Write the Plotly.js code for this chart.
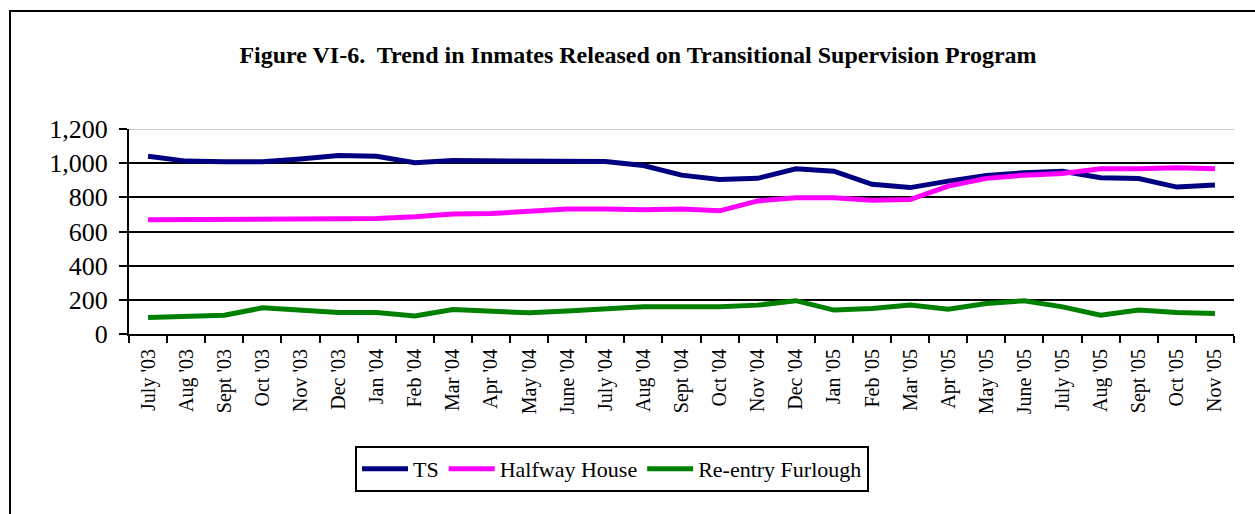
<!DOCTYPE html>
<html>
<head>
<meta charset="utf-8">
<script src="https://cdn.plot.ly/plotly-3.0.1.min.js"></script>
<style>html,body{margin:0;padding:0;background:#fff;}#chart{width:1255px;height:514px;}</style>
</head>
<body>
<div id="chart"></div>
<script>
const months = ["July '03","Aug '03","Sept '03","Oct '03","Nov '03","Dec '03","Jan '04","Feb '04","Mar '04","Apr '04","May '04","June '04","July '04","Aug '04","Sept '04","Oct '04","Nov '04","Dec '04","Jan '05","Feb '05","Mar '05","Apr '05","May '05","June '05","July '05","Aug '05","Sept '05","Oct '05","Nov '05"];
const ts = [1040,1012,1008,1008,1025,1045,1040,1002,1015,1015,1012,1008,1010,986,930,905,911,967,953,876,857,895,928,944,953,915,910,860,872];
const halfway = [669,669,669,669,669,672,676,686,702,705,721,731,731,727,731,721,779,798,798,783,787,866,911,930,940,967,967,973,967];
const furlough = [97,100,110,153,140,126,126,105,143,136,124,134,149,159,159,159,169,195,140,149,169,145,178,195,159,110,140,126,120];
const seriesNames = ["TS","Halfway House","Re-entry Furlough"];
const yTicks = [0,200,400,600,800,1000,1200];

const serif = "Liberation Serif, Times New Roman, serif";
const L = 129, R = 1234, T = 129, B = 334;
const px = x => (x - L) / (R - L);
const py = y => (B - y) / (B - T);

const traces = [
  {x: months, y: ts, name: seriesNames[0], mode: "lines", line: {color: "#000080", width: 5}},
  {x: months, y: halfway, name: seriesNames[1], mode: "lines", line: {color: "#FF00FF", width: 5}},
  {x: months, y: furlough, name: seriesNames[2], mode: "lines", line: {color: "#008000", width: 5}}
];

const layout = {
  width: 1255, height: 514,
  margin: {l: L, r: 1255 - R, t: T, b: 514 - B},
  paper_bgcolor: "#fff", plot_bgcolor: "#fff",
  showlegend: true,
  title: {
    text: "<b>Figure VI-6.  Trend in Inmates Released on Transitional Supervision Program</b>",
    font: {family: serif, size: 24, color: "#000"},
    x: 638/1255, xref: "container", xanchor: "center",
    y: 1 - 55/514, yref: "container", yanchor: "middle"
  },
  xaxis: {
    type: "category",
    range: [-0.5, months.length - 0.5],
    showline: true, linecolor: "#000", linewidth: 2,
    ticks: "outside", tickson: "boundaries", ticklen: 7, tickwidth: 2, tickcolor: "#000",
    tickangle: -90,
    ticklabelstandoff: 5,
    tickfont: {family: serif, size: 20, color: "#000"},
    showgrid: false, zeroline: false,
    fixedrange: true
  },
  yaxis: {
    range: [0, 1200],
    tickvals: yTicks,
    ticktext: yTicks.map(v => v.toLocaleString("en-US")),
    showline: true, linecolor: "#000", linewidth: 2,
    ticks: "outside", ticklen: 8, tickwidth: 2, tickcolor: "#000",
    ticklabelstandoff: 6,
    tickfont: {family: serif, size: 26, color: "#000"},
    showgrid: true, gridcolor: "#000", gridwidth: 2,
    zeroline: false,
    fixedrange: true
  },
  legend: {
    orientation: "h",
    x: px(612), xanchor: "center",
    y: py(469), yanchor: "middle",
    bordercolor: "#000", borderwidth: 2,
    bgcolor: "#fff",
    font: {family: serif, size: 22, color: "#000"},
    itemwidth: 46,
    tracegroupgap: 0
  },
  shapes: [
    {type: "line", xref: "paper", yref: "y", x0: 0, x1: 1, y0: 1200, y1: 1200,
     line: {color: "#c8c8c8", width: 2}, layer: "above"},
    {type: "rect", xref: "paper", yref: "paper",
     x0: px(10), x1: px(1262), y0: py(520), y1: py(11),
     line: {color: "#000", width: 2}, fillcolor: "rgba(0,0,0,0)", layer: "above"}
  ]
};

Plotly.newPlot("chart", traces, layout, {displayModeBar: false, staticPlot: true});
</script>
</body>
</html>
